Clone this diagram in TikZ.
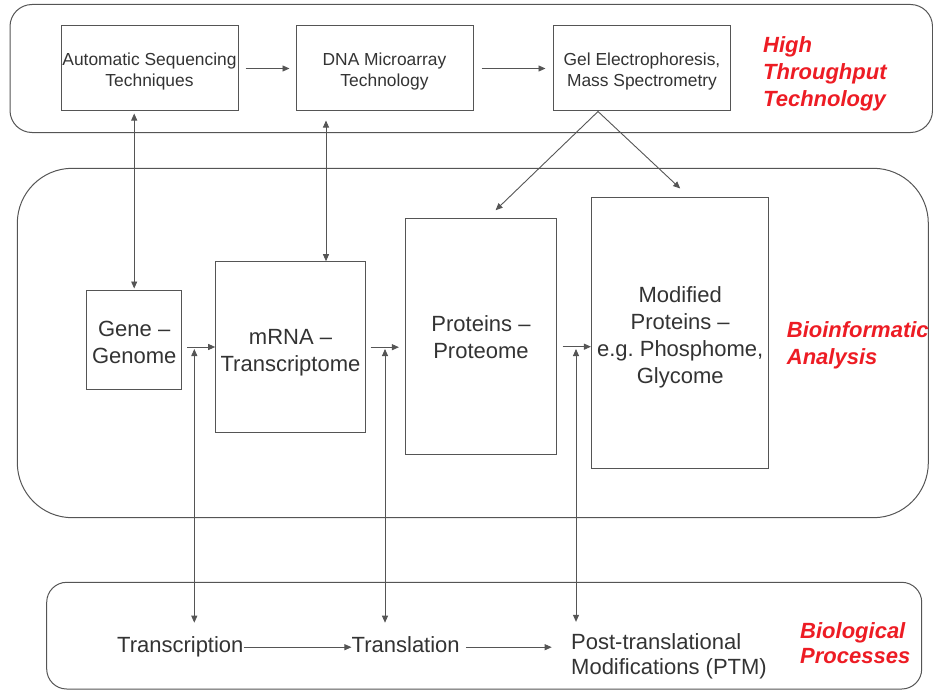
\documentclass[tikz,border=0pt]{standalone}
\usepackage{fontspec}
\setmainfont{Liberation Sans}
\usetikzlibrary{arrows.meta,calc}
\definecolor{linegray}{HTML}{555555}
\definecolor{textgray}{HTML}{333333}
\definecolor{labelred}{HTML}{ED1C24}
% invisible strut that sets the height of a first text line
\newcommand{\firstline}[1]{\rule{0pt}{#1}}

\begin{document}
\begin{tikzpicture}[x=1pt,y=-1pt,
  panel/.style={draw=linegray, line width=1pt, rounded corners=#1},
  techbox/.style={draw=linegray, line width=1pt, inner sep=0pt, align=center,
    text=textgray, font=\fontsize{17.4}{21}\selectfont},
  omebox/.style={draw=linegray, line width=1pt, inner sep=0pt, align=center,
    text=textgray, font=\fontsize{22}{27}\selectfont},
  proc/.style={inner sep=0pt, text=textgray, text height=16pt, text depth=4.6pt,
    font=\fontsize{22}{25}\selectfont},
  procblock/.style={inner sep=0pt, align=left, anchor=west, text=textgray,
    font=\fontsize{22}{25}\selectfont},
  tag/.style={inner sep=0pt, align=left, anchor=west, text=labelred,
    font=\fontsize{22}{#1}\selectfont\bfseries\itshape},
  flow/.style={draw=linegray, line width=0.9pt, -{Triangle[length=7pt,width=6pt]}},
  both/.style={draw=linegray, line width=0.9pt,
    {Triangle[length=7pt,width=6pt]}-{Triangle[length=7pt,width=6pt]}},
]
\useasboundingbox (0,0) rectangle (933,690);

% the three layers
\draw[panel=22pt] (10,4.5) rectangle (932.5,132.5);
\draw[panel=55pt] (17.3,168.3) rectangle (928.3,517.7);
\draw[panel=20pt] (46.7,582.3) rectangle (921.7,689);

% high throughput technology
\node[techbox, minimum width=177pt, minimum height=85pt] (seq) at (149.5,68.5)
  {\firstline{19.5pt}Automatic Sequencing\\Techniques};
\node[techbox, minimum width=177pt, minimum height=85pt] (dna) at (384.5,68.5)
  {\firstline{19.5pt}DNA Microarray\\Technology};
\node[techbox, minimum width=176.6pt, minimum height=85pt] (gel) at (642,68.5)
  {\firstline{19.5pt}Gel Electrophoresis,\\Mass Spectrometry};
\node[tag=26.7] (ht) at (763,73.9) {High\\Throughput\\Technology};

% bioinformatic analysis
\node[omebox, minimum width=95pt, minimum height=99pt] (gene) at (134.2,339.5)
  {\firstline{21pt}Gene --\\Genome};
\node[omebox, minimum width=149.6pt, minimum height=171pt] (mrna) at (290.5,347.2)
  {\firstline{26pt}mRNA --\\Transcriptome};
\node[omebox, minimum width=150.2pt, minimum height=235.3pt] (prot) at (481,336.4)
  {\firstline{18pt}Proteins --\\Proteome};
\node[omebox, minimum width=177.5pt, minimum height=271pt] (mod) at (680.2,332.5)
  {\firstline{25pt}Modified\\Proteins --\\e.g.\ Phosphome,\\Glycome};
\node[tag=26.7] (ba) at (786.7,345.5) {Bioinformatic\\Analysis};

% biological processes
\node[proc] (txn) at (180.3,647.2) {Transcription};
\node[proc] (tln) at (405.7,647.2) {Translation};
\node[procblock] (ptm) at (571,656.5) {Post-translational\\Modifications (PTM)};
\node[tag=25] (bp) at (800,643.5) {Biological\\Processes};

% technology chain
\draw[flow, shorten <=7pt, shorten >=6pt] (seq.east) -- (dna.west);
\draw[flow, shorten <=8pt, shorten >=7.7pt] (dna.east) -- (gel.west);

% technology to data
\draw[both, shorten <=2pt, shorten >=1pt] (gene.north |- seq.south) -- (gene.north);
\coordinate (dm) at ([xshift=35.5pt]mrna.north);
\draw[both, shorten <=9pt] (dm |- dna.south) -- (dm);
\coordinate (gs) at ([xshift=-44pt]gel.south);
\coordinate (pt) at ([xshift=14.6pt,yshift=8pt]prot.north);
\coordinate (mt) at ([yshift=8pt]mod.north);
\draw[flow] (gs) -- (pt);
\draw[flow] (gs) -- (mt);

% data chain
\coordinate (g1) at ([yshift=-7.5pt]gene.east);
\draw[flow, shorten <=5pt] (g1) -- (g1 -| mrna.west);
\draw[flow, shorten <=4.7pt, shorten >=6.5pt] (mrna.east) -- (mrna.east -| prot.west);
\coordinate (p1) at ([yshift=-10.3pt]prot.east);
\draw[flow, shorten <=6pt] (p1) -- (p1 -| mod.west);

% processes to data
\coordinate (ga) at (194.3,349);
\coordinate (ta) at (385,349);
\coordinate (pa) at (576,349);
\draw[both, shorten >=14pt] (ga) -- (ga |- txn.north);
\draw[both, shorten >=14pt] (ta) -- (ta |- tln.north);
\draw[both, shorten >=11.7pt] (pa) -- (pa |- ptm.north);

% process chain
\draw[flow] (txn.east) -- (tln.west);
\draw[flow, shorten <=6pt, shorten >=19.3pt] (tln.east) -- (ptm.west |- tln.east);
\end{tikzpicture}
\end{document}
